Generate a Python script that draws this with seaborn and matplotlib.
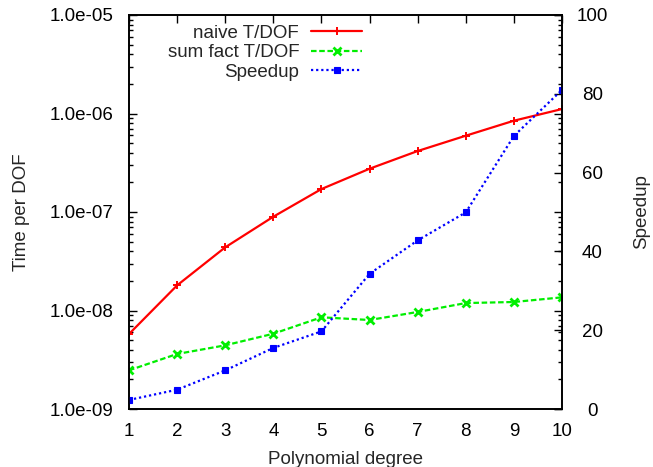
import matplotlib
matplotlib.use("Agg")
import matplotlib.pyplot as plt
import matplotlib.ticker as mticker
import seaborn as sns
import pandas as pd

# Polynomial degree vs. time per degree of freedom and resulting speedup
degree = [1, 2, 3, 4, 5, 6, 7, 8, 9, 10]
naive_t = [5.77e-9, 1.80e-8, 4.38e-8, 8.96e-8, 1.71e-7, 2.75e-7, 4.16e-7, 5.95e-7, 8.45e-7, 1.11e-6]
sumfact_t = [2.47e-9, 3.62e-9, 4.43e-9, 5.81e-9, 8.53e-9, 8.01e-9, 9.66e-9, 1.19e-8, 1.22e-8, 1.36e-8]
speedup = [2.3, 4.9, 9.8, 15.5, 19.7, 34.3, 42.8, 49.9, 69.3, 81.0]
series_labels = ["naive T/DOF", "sum fact T/DOF", "Speedup"]
y1_ticks = [1e-9, 1e-8, 1e-7, 1e-6, 1e-5]
y2_ticks = [0, 20, 40, 60, 80, 100]

df = pd.DataFrame({"degree": degree, "naive": naive_t, "sumfact": sumfact_t, "speedup": speedup})

sns.set_style("white")
plt.rcParams["font.family"] = ["Liberation Sans", "DejaVu Sans"]
FS = 13.5

fig = plt.figure(figsize=(6.53, 4.67), dpi=100)
ax = fig.add_axes([129 / 653, 1 - 409 / 467, 433 / 653, 394 / 467])
ax2 = ax.twinx()

RED, GREEN, BLUE = "#ff0000", "#00ee00", "#0000ff"
sns.lineplot(data=df, x="degree", y="naive", ax=ax, color=RED, lw=1.6,
             marker="+", markersize=5.5, markeredgewidth=1.4, markeredgecolor=RED,
             label=series_labels[0], legend=False)
sns.lineplot(data=df, x="degree", y="sumfact", ax=ax, color=GREEN, lw=1.6,
             linestyle=(0, (2.5, 1.2)), marker="x", markersize=5.5, markeredgewidth=2,
             markeredgecolor=GREEN, label=series_labels[1], legend=False)
sns.lineplot(data=df, x="degree", y="speedup", ax=ax2, color=BLUE, lw=1.6,
             linestyle=(0, (1, 1.3)), marker="s", markersize=5, markeredgewidth=0.8,
             markeredgecolor=BLUE, label=series_labels[2], legend=False)

ax.set_yscale("log")
ax.set_xlim(1, 10)
ax.set_ylim(1e-9, 1e-5)
ax2.set_ylim(0, 100)

ax.set_xticks(degree)
ax.set_xticklabels([str(d) for d in degree], fontsize=FS)
ax.set_yticks(y1_ticks)
ax.yaxis.set_major_formatter(mticker.FuncFormatter(lambda v, p: "%.1e" % v))
ax.yaxis.set_minor_locator(mticker.LogLocator(base=10, subs=range(2, 10), numticks=20))
ax.yaxis.set_minor_formatter(mticker.NullFormatter())
for lab in ax.get_yticklabels():
    lab.set_fontsize(FS)

ax2.set_yticks(y2_ticks)
ax2.set_yticklabels([str(v) for v in y2_ticks], fontsize=FS, ha="center")

ax.tick_params(axis="both", which="major", direction="in", length=6, width=1,
               top=True, right=True, color="black", labelcolor="black")
ax.tick_params(axis="y", which="minor", direction="in", length=3, width=1,
               right=True, left=True, color="black")
ax.tick_params(axis="x", which="major", pad=10)
ax.tick_params(axis="y", which="major", pad=11)
ax2.tick_params(axis="y", which="major", direction="in", length=6, width=1, pad=22,
                color="black", labelcolor="black")
ax2.tick_params(axis="y", which="minor", right=False)

for a in (ax, ax2):
    for sp in a.spines.values():
        sp.set_visible(True)
        sp.set_color("black")
        sp.set_linewidth(1.2)

ax.set_xlabel("Polynomial degree", fontsize=FS, labelpad=8)
ax.set_ylabel("Time per DOF", fontsize=FS, labelpad=14)
ax2.set_ylabel("Speedup", fontsize=FS, labelpad=18)

h1, l1 = ax.get_legend_handles_labels()
h2, l2 = ax2.get_legend_handles_labels()
leg = ax2.legend(h1 + h2, l1 + l2, loc="upper right", bbox_to_anchor=(0.538, 0.975),
                 frameon=False, markerfirst=False, fontsize=FS, handlelength=2.7,
                 handletextpad=0.65, labelspacing=0.12, borderpad=0, borderaxespad=0)

fig.savefig("out.png", dpi=100, facecolor="white")
